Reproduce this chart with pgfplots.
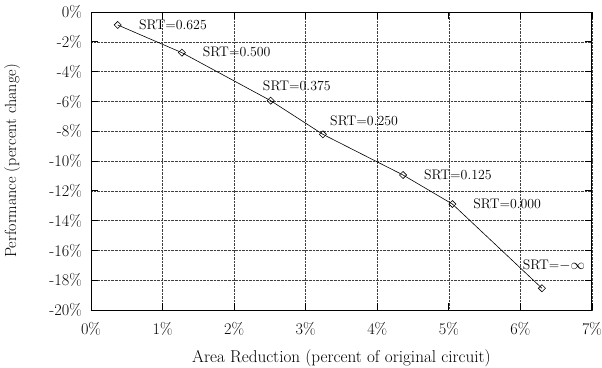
\documentclass[border=0pt]{standalone}
\usepackage{pgfplots}
\pgfplotsset{compat=1.18}
\begin{document}
\begin{tikzpicture}
\begin{axis}[
  at={(0,0)}, anchor=south west,
  scale only axis,
  width=501bp, height=298bp,
  xmin=0, xmax=7, ymin=-20, ymax=0,
  xtick={0,1,2,3,4,5,6,7},
  xticklabels={0\%,1\%,2\%,3\%,4\%,5\%,6\%,7\%},
  ytick={0,-2,-4,-6,-8,-10,-12,-14,-16,-18,-20},
  yticklabels={0\%,-2\%,-4\%,-6\%,-8\%,-10\%,-12\%,-14\%,-16\%,-18\%,-20\%},
  tick align=inside,
  major tick length=7bp,
  xtick pos=both, ytick pos=both,
  grid=major,
  grid style={black!75, densely dotted, line width=0.5pt},
  axis line style={line width=1pt},
  tick style={black, line width=0.8pt},
  xlabel={Area Reduction (percent of original circuit)},
  ylabel={Performance (percent change)},
  xlabel style={at={(axis description cs:0.5,-0.161)}, anchor=center, font=\fontsize{17.2}{20}\selectfont},
  ylabel style={at={(axis description cs:-0.1577,0.5)}, anchor=center, font=\fontsize{16.2}{19}\selectfont},
  tick label style={font=\fontsize{16.3}{19}\selectfont, inner sep=0pt},
  xticklabel style={anchor=north, yshift=-12bp},
  yticklabel style={anchor=east, xshift=-9bp},
  clip=false,
]
\addplot[black, line width=0.6pt, mark=square, mark size=2.5bp, mark options={solid, fill=white, line width=0.6pt, rotate=45}]
coordinates {
(0.373,-0.87) (1.27,-2.73) (2.51,-5.95) (3.24,-8.21) (4.36,-10.94) (5.05,-12.89) (6.30,-18.54)
};
\tikzset{srt/.style={anchor=west, inner sep=0pt, font=\fontsize{13.9}{16}\selectfont}}
\node[srt] at (axis cs:0.67,-0.87) {SRT=0.625};
\node[srt] at (axis cs:1.56,-2.68) {SRT=0.500};
\node[srt] at (axis cs:2.40,-4.97) {SRT=0.375};
\node[srt] at (axis cs:3.34,-7.32) {SRT=0.250};
\node[srt] at (axis cs:4.65,-10.94) {SRT=0.125};
\node[srt] at (axis cs:5.34,-12.89) {SRT=0.000};
\node[srt] at (axis cs:6.03,-16.98) {SRT=$-\infty$};
\end{axis}
\pgfresetboundingbox
\path (-91bp,-58bp) rectangle (511bp,310bp);
\end{tikzpicture}
\end{document}
